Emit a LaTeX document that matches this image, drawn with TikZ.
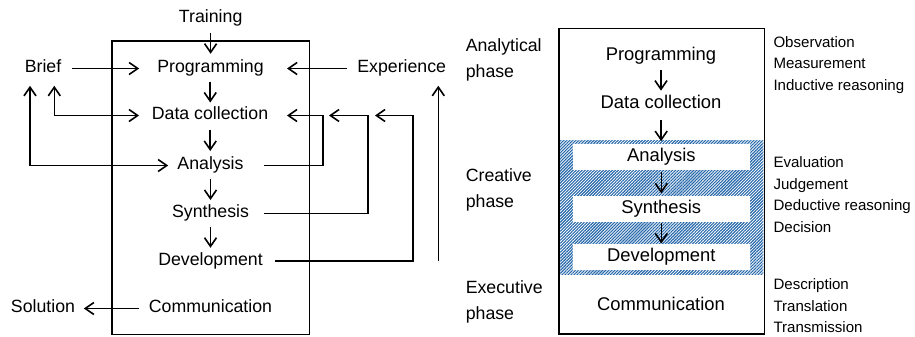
\documentclass[tikz,border=0pt]{standalone}
\usepackage{fontspec}
\setmainfont{Liberation Sans}
\usetikzlibrary{arrows.meta,calc,patterns.meta}

\definecolor{hatchblue}{RGB}{38,104,170}

\tikzset{every picture/.style={line width=1.2pt}}
\tikzset{
  stage/.style={inner sep=0pt, font=\fontsize{13.3}{16}\selectfont, text height=9.5pt, text depth=2.8pt},
  stagebig/.style={stage, font=\fontsize{13.8}{16}\selectfont},
  whitebox/.style={stagebig, fill=white, minimum width=133pt, minimum height=19.2pt},
  phase/.style={anchor=west, align=left, inner sep=0pt, font=\fontsize{13.3}{19.5}\selectfont},
  notes/.style={anchor=west, align=left, inner sep=0pt, font=\fontsize{11.3}{16.2}\selectfont},
  link/.style={-{Straight Barb[length=6.5pt,width=9pt]}},
  twoway/.style={{Straight Barb[length=6.5pt,width=9pt]}-{Straight Barb[length=6.5pt,width=9pt]}},
  flow/.style={link, to path={($(\tikztostart)!.5!(\tikztotarget)+(0,-10.5)$) -- ($(\tikztostart)!.5!(\tikztotarget)+(0,10.5)$)}},
}

\begin{document}
\begin{tikzpicture}[x=0.75pt,y=0.75pt,yscale=-1,xscale=1]
\useasboundingbox (0,0) rectangle (915,336);

% left: design process
\draw (111.7,40.7) rectangle (309.3,334.3);

\node[stage] (train) at (210.7,18) {Training};
\node[stage] (prog) at (210.5,68.5) {Programming};
\node[stage] (data) at (210,115.5) {Data collection};
\node[stage] (ana) at (210.5,165.5) {Analysis};
\node[stage] (syn) at (210.5,213.5) {Synthesis};
\node[stage] (dev) at (210.5,261) {Development};
\node[stage] (comm) at (210.5,308.5) {Communication};
\node[stage] (brief) at (43,68.5) {Brief};
\node[stage] (exper) at (401.7,68.5) {Experience};
\node[stage] (sol) at (43,308.5) {Solution};

\coordinate (loopA) at (323,115.5);
\coordinate (loopB) at (368,115.5);
\coordinate (endB) at (329,115.5);
\coordinate (loopC) at (412.7,115.5);
\coordinate (endC) at (375,115.5);
\coordinate (expfoot) at (438.3,260.7);

\draw[flow] (train) to (prog);
\draw[flow] (prog) to (data);
\draw[flow] (data) to (ana);
\draw[flow] (ana) to (syn);
\draw[flow] (syn) to (dev);

\draw[link, shorten <=7.3pt, shorten >=13pt] (brief) -- (prog);
\draw[link, shorten <=7.3pt, shorten >=16.9pt] (exper) -- (prog);
\draw[twoway, shorten >=9pt] ($(brief.south)+(11.3,8.3)$) |- (data);
\draw[twoway, shorten >=6.4pt] ($(brief.south)+(-13,8.3)$) |- (ana);

% feedback loops
\draw[link, shorten <=14.6pt, shorten >=13.5pt] (ana) -| (loopA) -- (data);
\draw[link, shorten <=10.6pt] (syn) -| (loopB) -- (endB);
\draw[link, shorten <=8.6pt] (dev) -| (loopC) -- (endC);
\draw[link, shorten >=6.2pt] (expfoot) -- (expfoot |- exper.south);
\draw[link, shorten <=6.7pt, shorten >=6pt] (comm) -- (sol);

% right: phases
\fill[pattern={Lines[angle=45,distance=1.6pt,line width=0.85pt]}, pattern color=hatchblue] (560,140) rectangle (763.3,274);
\draw (559,28.3) rectangle (764.3,334);

\node[stagebig] (prog2) at (661,56) {Programming};
\node[stagebig] (data2) at (661,104.3) {Data collection};
\node[whitebox] (ana2) at (661.3,157) {Analysis};
\node[whitebox] (syn2) at (661.3,208.8) {Synthesis};
\node[whitebox] (dev2) at (661.3,257.2) {Development};
\node[stagebig] (comm2) at (661,306) {Communication};

\draw[flow] (prog2) to (data2);
\draw[flow] (data2) to (ana2);
\draw[flow] (ana2) to (syn2);
\draw[flow] (syn2) to (dev2);

\node[phase] (anaph) at (465,59.7) {Analytical\\phase};
\node[phase] (creph) at (465,190.3) {Creative\\phase};
\node[phase] (exeph) at (465,301.8) {Executive\\phase};

\node[notes] (obs) at (772.7,65) {Observation\\Measurement\\Inductive reasoning};
\node[notes] (eval) at (772.7,194.5) {Evaluation\\Judgement\\Deductive reasoning\\Decision};
\node[notes] (desc) at (772.7,306) {Description\\Translation\\Transmission};

\end{tikzpicture}
\end{document}
